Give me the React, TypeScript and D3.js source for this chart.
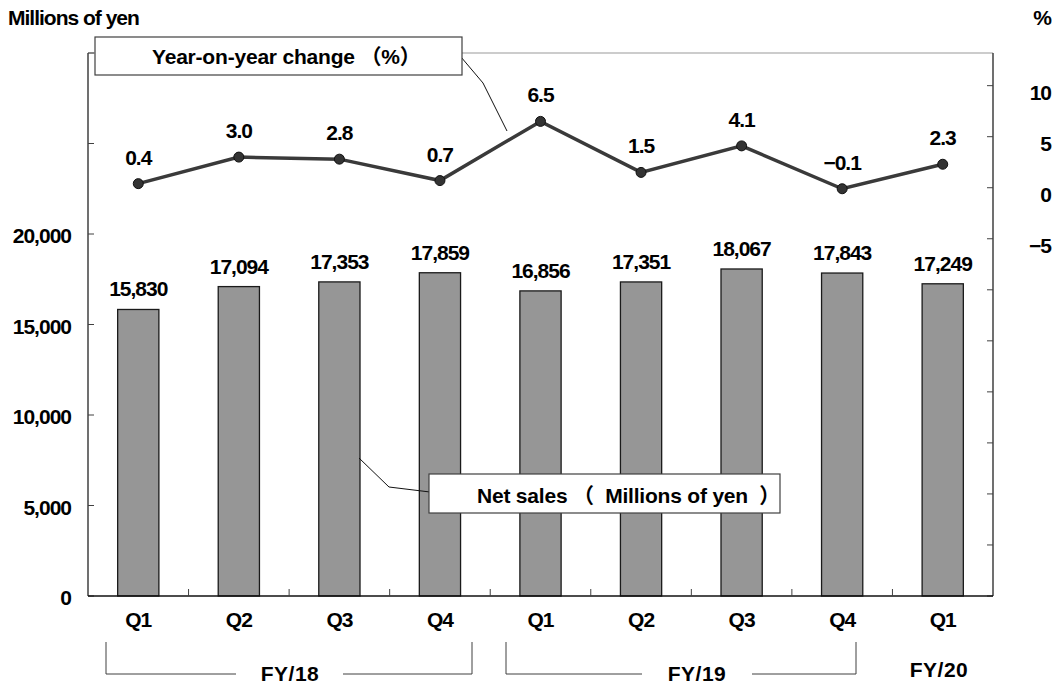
import React from "react";
import * as d3 from "d3";

// Quarterly net sales (millions of yen) and year-on-year change (%)
const periods = ["FY18-Q1", "FY18-Q2", "FY18-Q3", "FY18-Q4", "FY19-Q1", "FY19-Q2", "FY19-Q3", "FY19-Q4", "FY20-Q1"];
const quarterLabels = ["Q1", "Q2", "Q3", "Q4", "Q1", "Q2", "Q3", "Q4", "Q1"];
const netSales = [15830, 17094, 17353, 17859, 16856, 17351, 18067, 17843, 17249];
const yoyChange = [0.4, 3.0, 2.8, 0.7, 6.5, 1.5, 4.1, -0.1, 2.3];

const leftTicks = [0, 5000, 10000, 15000, 20000, 25000, 30000];
const leftTickLabels = [0, 5000, 10000, 15000, 20000];
const rightTicks = [-40, -35, -30, -25, -20, -15, -10, -5, 0, 5, 10];
const rightTickLabels = [-5, 0, 5, 10];

const W = 1058;
const H = 686;
const M = { left: 88, right: 993, top: 53, bottom: 596 };
const FONT = "'Liberation Sans', Arial, 'Noto Sans CJK JP', sans-serif";
const AXIS = "#404040";

export default function App() {
  const x = d3
    .scaleBand<string>()
    .domain(periods)
    .range([M.left, M.right])
    .paddingInner(0.59)
    .paddingOuter(0.295);
  const yL = d3.scaleLinear().domain([0, 30000]).range([M.bottom, M.top]);
  const yR = d3.scaleLinear().domain([-40, 13.2]).range([M.bottom, M.top]);
  const bw = x.bandwidth();
  const step = x.step();
  const cx = (p: string) => (x(p) as number) + bw / 2;

  const line = d3
    .line<number>()
    .x((_, i) => cx(periods[i]))
    .y((d) => yR(d));

  const fmtSales = d3.format(",");
  const fmtPct = d3.format(".1f");
  const fmtAxis = d3.format(",");
  const fmtRight = d3.format("d");

  // fiscal-year group brackets beneath the quarter labels
  const groups = [
    { label: "FY/18", x0: 106, x1: 472, gap0: 236, gap1: 343, tx: 290, ty: 681 },
    { label: "FY/19", x0: 506, x1: 856, gap0: 642, gap1: 752, tx: 697, ty: 681 },
  ];

  const textStyle: React.CSSProperties = {
    fontFamily: FONT,
    fontWeight: 700,
    fontSize: 21,
    letterSpacing: -1,
    fill: "#000",
  };
  const fyStyle: React.CSSProperties = { ...textStyle, letterSpacing: 0.5 };
  const calloutStyle: React.CSSProperties = { ...textStyle, letterSpacing: -0.2, whiteSpace: "pre" };

  return (
    <div style={{ position: "absolute", left: 0, top: 0 }}>
      <svg width={W} height={H} style={{ display: "block", background: "#fff" }}>
        {/* plot frame top edge */}
        <line x1={M.left} x2={M.right} y1={M.top} y2={M.top} stroke="#999" strokeWidth={1.2} />

        {/* left axis */}
        <line x1={M.left} x2={M.left} y1={M.top} y2={M.bottom} stroke={AXIS} strokeWidth={1.5} />
        {leftTicks.map((t) => (
          <line key={"lt" + t} x1={M.left} x2={M.left + 6} y1={yL(t)} y2={yL(t)} stroke={AXIS} strokeWidth={1} />
        ))}
        {leftTickLabels.map((t) => (
          <text key={"ll" + t} x={71} y={yL(t) + 9} textAnchor="end" style={textStyle}>
            {fmtAxis(t)}
          </text>
        ))}
        <text x={8} y={25} style={textStyle}>
          Millions of yen
        </text>

        {/* right axis */}
        <line x1={M.right} x2={M.right} y1={M.top} y2={M.bottom} stroke={AXIS} strokeWidth={1.5} />
        {rightTicks.map((t) => (
          <line key={"rt" + t} x1={M.right - 6} x2={M.right} y1={yR(t)} y2={yR(t)} stroke={AXIS} strokeWidth={1} />
        ))}
        {rightTickLabels.map((t) => (
          <text key={"rl" + t} x={1051} y={yR(t) + 14} textAnchor="end" style={textStyle}>
            {fmtRight(t)}
          </text>
        ))}
        <text x={1051} y={25} textAnchor="end" style={textStyle}>
          %
        </text>

        {/* bars */}
        {netSales.map((v, i) => (
          <rect
            key={"b" + i}
            x={x(periods[i])}
            y={yL(v)}
            width={bw}
            height={yL(0) - yL(v)}
            fill="#969696"
            stroke="#1a1a1a"
            strokeWidth={1.3}
          />
        ))}
        {netSales.map((v, i) => (
          <text key={"bl" + i} x={cx(periods[i])} y={yL(v) - 13} textAnchor="middle" style={textStyle}>
            {fmtSales(v)}
          </text>
        ))}

        {/* x axis */}
        <line x1={M.left} x2={M.right} y1={M.bottom} y2={M.bottom} stroke="#111" strokeWidth={1.5} />
        {periods.slice(1).map((p, i) => (
          <line
            key={"xt" + i}
            x1={(x(p) as number) - (step - bw) / 2}
            x2={(x(p) as number) - (step - bw) / 2}
            y1={M.bottom - 7}
            y2={M.bottom}
            stroke={AXIS}
            strokeWidth={1}
          />
        ))}
        {quarterLabels.map((q, i) => (
          <text key={"q" + i} x={cx(periods[i])} y={627} textAnchor="middle" style={textStyle}>
            {q}
          </text>
        ))}

        {/* fiscal-year brackets */}
        {groups.map((g) => (
          <g key={g.label}>
            <path
              d={`M${g.x0},642V674H${g.gap0}M${g.gap1},674H${g.x1}V642`}
              fill="none"
              stroke={AXIS}
              strokeWidth={1}
            />
            <text x={g.tx} y={g.ty} textAnchor="middle" style={fyStyle}>
              {g.label}
            </text>
          </g>
        ))}
        <text x={939} y={677} textAnchor="middle" style={fyStyle}>
          FY/20
        </text>

        {/* year-on-year line */}
        <path d={line(yoyChange) || ""} fill="none" stroke="#3a3a3a" strokeWidth={3.5} />
        {yoyChange.map((v, i) => (
          <circle key={"c" + i} cx={cx(periods[i])} cy={yR(v)} r={5} fill="#333" stroke="#111" strokeWidth={1} />
        ))}
        {yoyChange.map((v, i) => (
          <text key={"cl" + i} x={cx(periods[i])} y={yR(v) - 19} textAnchor="middle" style={textStyle}>
            {fmtPct(v)}
          </text>
        ))}

        {/* callout: year-on-year change */}
        <polyline points="461,57 483,83 507,131" fill="none" stroke="#111" strokeWidth={1} />
        <rect x={95} y={37} width={367} height={38} fill="#fff" stroke={AXIS} strokeWidth={1.2} />
        <text x={152} y={64} style={calloutStyle}>
          {"Year-on-year change （%）"}
        </text>

        {/* callout: net sales */}
        <polyline points="430,492 389,487 359,458" fill="none" stroke="#111" strokeWidth={1} />
        <rect x={429} y={474} width={351} height={39} fill="#fff" stroke={AXIS} strokeWidth={1.2} />
        <text x={477} y={503} style={calloutStyle}>
          {"Net sales （  Millions of yen  ）"}
        </text>
      </svg>
    </div>
  );
}
